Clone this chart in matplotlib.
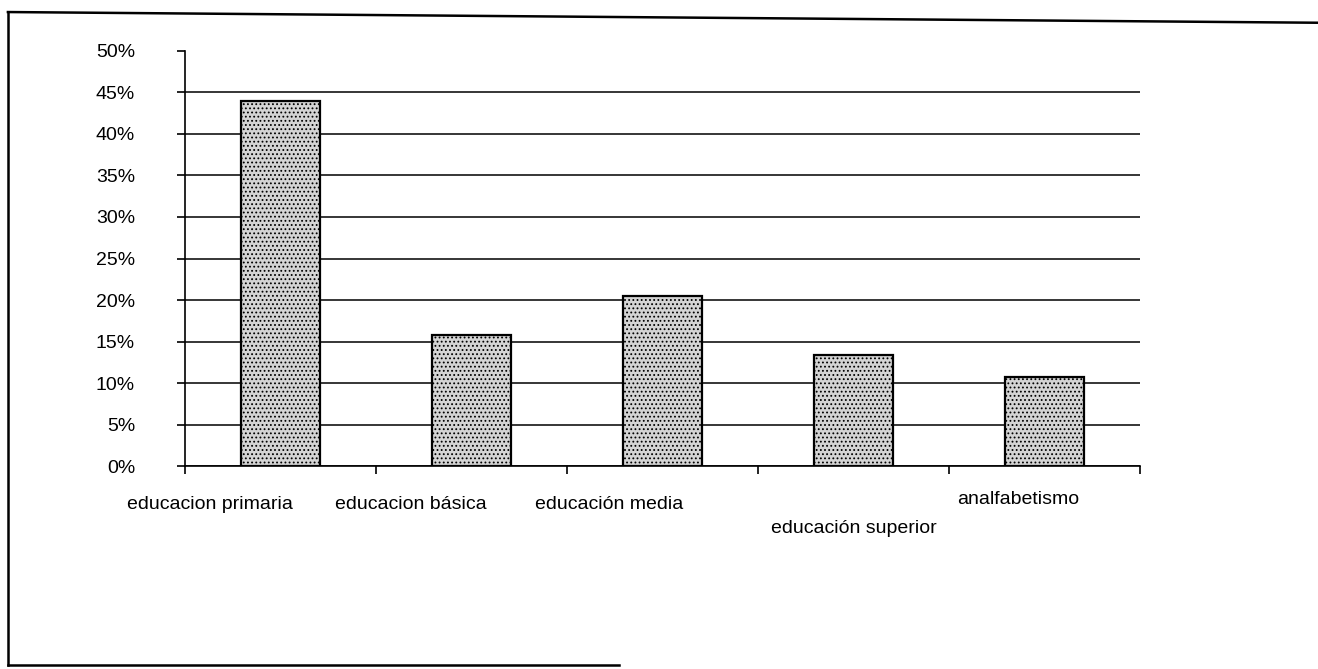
import matplotlib.pyplot as plt
from matplotlib.lines import Line2D
import numpy as np

categories = ['educacion primaria', 'educacion básica', 'educación media',
              'educación superior', 'analfabetismo']
values = [0.44, 0.158, 0.205, 0.134, 0.107]
yticks = [0, 0.05, 0.10, 0.15, 0.20, 0.25, 0.30, 0.35, 0.40, 0.45, 0.50]

plt.rcParams['font.family'] = ['Liberation Sans', 'DejaVu Sans']
plt.rcParams['hatch.color'] = '#6e6e6e'
plt.rcParams['hatch.linewidth'] = 0.8

fig = plt.figure(figsize=(13.18, 6.69), dpi=100)
ax = fig.add_axes([0.1404, 0.3034, 0.7246, 0.6204])

x = np.arange(len(categories))
ax.bar(x, values, width=0.41, facecolor='#d4d4d4', edgecolor='black',
       linewidth=1.6, hatch='....', zorder=3)

ax.set_xlim(-0.5, len(categories) - 0.5)
ax.set_ylim(0, 0.5)
ax.set_yticks(yticks)
ax.set_yticklabels(['%d%%' % round(v * 100) for v in yticks], fontsize=14)
ax.tick_params(axis='y', length=6, width=1.2, pad=30, direction='out')

# ticks on category boundaries, labels placed by hand (offsets like the original)
ax.set_xticks(np.arange(len(categories) + 1) - 0.5)
ax.set_xticklabels([])
ax.tick_params(axis='x', length=6, width=1.2, direction='out')
offsets = [(-0.37, -0.046), (-0.32, -0.046), (-0.28, -0.046), (0.0, -0.075), (-0.14, -0.040)]
for i, (lab, (dx, dy)) in enumerate(zip(categories, offsets)):
    ax.text(i + dx, dy, lab, ha='center', va='center', fontsize=14,
            transform=ax.transData, clip_on=False)

ax.yaxis.grid(True, color='black', linewidth=1.1, zorder=0)
ax.set_axisbelow(True)
ax.yaxis.get_gridlines()[-1].set_visible(False)

for s in ['top', 'right']:
    ax.spines[s].set_visible(False)
for s in ['left', 'bottom']:
    ax.spines[s].set_linewidth(1.2)

# outer frame of the scanned chart
frame_kw = dict(color='black', linewidth=1.8, transform=fig.transFigure)
fig.lines.append(Line2D([0.006, 1.0], [0.982, 0.966], **frame_kw))
fig.lines.append(Line2D([0.006, 0.006], [0.982, 0.006], **frame_kw))
fig.lines.append(Line2D([0.006, 0.47], [0.006, 0.006], **frame_kw))

fig.savefig('out.png', dpi=100, facecolor='white')
